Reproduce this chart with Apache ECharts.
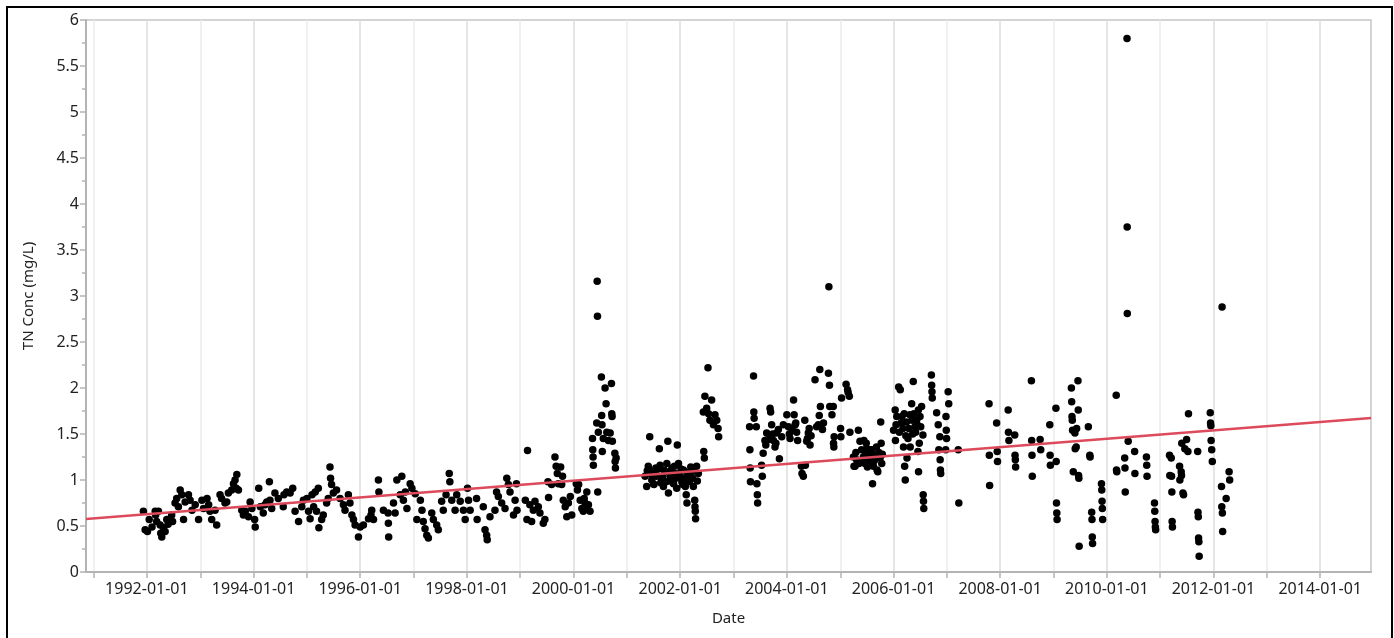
<!DOCTYPE html>
<html>
<head>
<meta charset="utf-8">
<script src="https://cdn.jsdelivr.net/npm/echarts@6/dist/echarts.min.js"></script>
<style>
  html, body { margin: 0; padding: 0; background: #fff; overflow: hidden; }
  #chart { position: absolute; left: 0; top: 0; width: 1394px; height: 638px; }
  #frame { position: absolute; left: 6px; top: 6px; width: 1383px; height: 700px; border: 2px solid #000; pointer-events: none; }
</style>
</head>
<body>
<div id="chart"></div>
<div id="frame"></div>
<script>
// TN samples: [date, mg/L]
const samples1991to1995 = [
  ['1991-12-08',0.66],['1991-12-20',0.46],
  ['1992-01-05',0.44],['1992-01-17',0.57],['1992-02-05',0.49],['1992-02-27',0.66],['1992-03-01',0.62],['1992-03-08',0.55],
  ['1992-03-20',0.66],['1992-04-01',0.51],['1992-04-05',0.42],['1992-04-12',0.38],['1992-04-23',0.48],['1992-05-05',0.44],
  ['1992-05-16',0.57],['1992-05-25',0.52],['1992-06-08',0.58],['1992-06-19',0.62],['1992-06-25',0.55],['1992-07-12',0.75],
  ['1992-07-23',0.80],['1992-08-04',0.71],['1992-08-16',0.89],['1992-08-27',0.84],['1992-09-08',0.57],['1992-09-19',0.76],
  ['1992-10-12',0.84],['1992-10-23',0.78],['1992-11-05',0.67],['1992-11-27',0.73],['1992-12-20',0.57],
  ['1993-01-12',0.78],['1993-01-23',0.69],['1993-02-16',0.80],['1993-02-27',0.73],['1993-03-08',0.66],['1993-03-20',0.57],
  ['1993-04-12',0.67],['1993-04-23',0.51],['1993-05-16',0.84],['1993-05-27',0.80],['1993-06-19',0.75],['1993-07-01',0.76],
  ['1993-07-12',0.86],['1993-08-04',0.89],['1993-08-16',0.96],['1993-08-27',1.00],['1993-09-04',0.91],['1993-09-08',1.06],
  ['1993-09-19',0.89],['1993-10-12',0.67],['1993-10-23',0.62],['1993-11-05',0.66],['1993-11-27',0.60],['1993-12-08',0.76],
  ['1993-12-20',0.69],
  ['1994-01-08',0.57],['1994-01-12',0.49],['1994-02-05',0.91],['1994-02-16',0.71],['1994-03-08',0.64],['1994-03-20',0.73],
  ['1994-04-01',0.76],['1994-04-19',0.98],['1994-04-23',0.78],['1994-05-05',0.69],['1994-05-27',0.86],['1994-06-19',0.80],
  ['1994-07-23',0.71],['1994-07-28',0.84],['1994-08-16',0.87],['1994-09-08',0.86],['1994-09-26',0.91],['1994-10-12',0.66],
  ['1994-11-05',0.55],['1994-11-27',0.71],['1994-12-08',0.78],
  ['1995-01-01',0.80],['1995-01-12',0.66],['1995-01-23',0.58],['1995-02-05',0.84],['1995-02-16',0.71],['1995-02-27',0.87],
  ['1995-03-08',0.66],['1995-03-20',0.91],['1995-03-24',0.48],['1995-04-12',0.57],['1995-04-23',0.62],['1995-05-16',0.75],
  ['1995-05-27',0.80],['1995-06-08',1.14],['1995-06-12',1.02],['1995-06-19',0.95],['1995-07-01',0.86],['1995-07-23',0.89],
  ['1995-08-16',0.80],['1995-09-08',0.73],['1995-09-19',0.67],['1995-10-12',0.84],['1995-10-23',0.75],['1995-11-05',0.62],
  ['1995-11-16',0.57],['1995-11-27',0.51],['1995-12-20',0.38]
];

const samples1996to1999 = [
  ['1996-01-01',0.49],['1996-01-23',0.51],['1996-02-27',0.58],['1996-03-15',0.62],['1996-03-20',0.67],['1996-04-01',0.57],
  ['1996-05-05',1.00],['1996-05-08',0.87],['1996-06-08',0.67],['1996-07-10',0.64],['1996-07-12',0.53],['1996-07-14',0.38],
  ['1996-08-16',0.75],['1996-08-27',0.64],['1996-09-08',1.00],['1996-10-01',0.84],['1996-10-12',1.04],['1996-10-23',0.78],
  ['1996-11-05',0.87],['1996-11-16',0.69],['1996-12-08',0.96],['1996-12-20',0.91],
  ['1997-01-12',0.85],['1997-01-23',0.57],['1997-02-16',0.78],['1997-02-27',0.67],['1997-03-08',0.55],['1997-03-20',0.47],
  ['1997-04-01',0.40],['1997-04-12',0.37],['1997-05-05',0.64],['1997-05-16',0.57],['1997-06-08',0.51],['1997-06-19',0.46],
  ['1997-07-12',0.77],['1997-07-23',0.67],['1997-08-11',0.84],['1997-09-02',1.07],['1997-09-06',0.98],['1997-09-19',0.78],
  ['1997-10-12',0.67],['1997-10-23',0.84],['1997-11-16',0.77],['1997-12-08',0.67],['1997-12-20',0.57],
  ['1998-01-05',0.91],['1998-01-12',0.78],['1998-01-23',0.67],['1998-03-08',0.80],['1998-03-12',0.57],['1998-04-23',0.71],
  ['1998-05-05',0.46],['1998-05-16',0.40],['1998-05-20',0.35],['1998-06-08',0.60],['1998-07-12',0.67],['1998-07-23',0.87],
  ['1998-08-04',0.82],['1998-08-27',0.75],['1998-09-19',0.69],['1998-10-01',1.02],['1998-10-12',0.95],['1998-10-23',0.87],
  ['1998-11-16',0.62],['1998-11-27',0.78],['1998-12-06',0.96],['1998-12-10',0.67],
  ['1999-02-05',0.78],['1999-02-16',0.57],['1999-02-20',1.32],['1999-03-08',0.73],['1999-03-20',0.55],['1999-04-01',0.67],
  ['1999-04-12',0.77],['1999-05-05',0.71],['1999-05-16',0.64],['1999-06-08',0.53],['1999-06-19',0.57],['1999-07-10',0.98],
  ['1999-07-14',0.81],['1999-08-04',0.95],['1999-08-27',1.25],['1999-09-04',1.15],['1999-09-12',1.07],['1999-09-19',0.96],
  ['1999-10-05',1.14],['1999-10-12',0.95],['1999-10-18',1.04],['1999-10-23',0.78],['1999-11-05',0.71],['1999-11-16',0.60],
  ['1999-11-27',0.75],['1999-12-10',0.82],['1999-12-20',0.62]
];

const samples2000to2004 = [
  ['2000-01-20',0.96],['2000-01-28',0.89],['2000-02-05',0.95],['2000-02-16',0.78],['2000-02-27',0.69],['2000-03-08',0.66],
  ['2000-03-14',0.80],['2000-03-20',0.75],['2000-04-01',0.87],['2000-04-05',0.69],['2000-04-12',0.73],['2000-04-23',0.66],
  ['2000-05-10',1.45],['2000-05-12',1.33],['2000-05-14',1.25],['2000-05-16',1.16],['2000-06-08',1.62],['2000-06-11',3.16],
  ['2000-06-13',2.78],['2000-06-15',0.87],['2000-06-19',1.52],['2000-07-10',2.12],['2000-07-12',1.70],['2000-07-14',1.60],
  ['2000-07-16',1.31],['2000-07-23',1.45],['2000-08-04',2.00],['2000-08-11',1.83],['2000-08-16',1.52],['2000-08-27',1.43],
  ['2000-09-08',1.51],['2000-09-17',2.05],['2000-09-19',1.72],['2000-09-21',1.69],['2000-09-23',1.42],['2000-10-10',1.29],
  ['2000-10-12',1.20],['2000-10-14',1.13],['2000-10-19',1.24],
  ['2001-05-05',1.04],['2001-05-16',0.93],['2001-05-20',1.10],['2001-05-27',1.15],['2001-06-01',1.12],['2001-06-06',1.47],
  ['2001-06-10',1.07],['2001-06-20',1.00],['2001-06-28',1.05],['2001-07-01',0.96],['2001-07-05',0.95],['2001-07-12',1.09],
  ['2001-07-18',1.13],['2001-07-23',1.04],['2001-08-05',1.12],['2001-08-11',1.34],['2001-08-16',1.16],['2001-08-20',0.97],
  ['2001-08-27',1.00],['2001-09-01',1.04],['2001-09-08',0.93],['2001-09-12',1.11],['2001-09-19',1.09],['2001-09-25',0.98],
  ['2001-10-01',1.18],['2001-10-08',1.42],['2001-10-12',0.86],['2001-10-18',0.99],['2001-10-23',1.04],['2001-10-28',1.10],
  ['2001-11-05',1.13],['2001-11-10',1.00],['2001-11-16',0.96],['2001-11-22',1.15],['2001-11-27',1.07],['2001-12-01',1.02],
  ['2001-12-08',0.91],['2001-12-12',1.38],['2001-12-16',1.06],['2001-12-20',1.18],
  ['2002-01-01',1.04],['2002-01-06',1.12],['2002-01-12',0.98],['2002-01-18',0.95],['2002-01-23',1.11],['2002-01-28',1.02],
  ['2002-02-05',0.93],['2002-02-11',0.84],['2002-02-16',0.75],['2002-02-20',1.08],['2002-02-27',1.05],['2002-03-01',0.98],
  ['2002-03-08',1.00],['2002-03-14',1.14],['2002-03-20',1.09],['2002-03-26',1.02],['2002-04-01',0.93],['2002-04-05',1.10],
  ['2002-04-10',0.78],['2002-04-12',0.71],['2002-04-14',0.66],['2002-04-16',0.58],['2002-04-23',1.15],['2002-04-28',0.99],
  ['2002-05-05',1.07],
  ['2002-06-08',1.74],['2002-06-11',1.31],['2002-06-15',1.24],['2002-06-19',1.91],['2002-07-01',1.78],['2002-07-10',2.22],
  ['2002-07-14',1.72],['2002-07-23',1.65],['2002-08-04',1.87],['2002-08-16',1.60],['2002-08-27',1.71],['2002-09-08',1.65],
  ['2002-09-17',1.56],['2002-09-21',1.47],
  ['2003-04-21',1.58],['2003-04-23',1.33],['2003-04-25',1.13],['2003-04-27',0.98],['2003-05-18',2.13],['2003-05-20',1.74],
  ['2003-05-22',1.67],['2003-06-06',1.58],['2003-06-10',0.96],['2003-06-13',0.84],['2003-06-15',0.75],['2003-07-12',1.16],
  ['2003-07-17',1.04],['2003-07-23',1.29],['2003-08-04',1.43],['2003-08-10',1.38],['2003-08-16',1.51],['2003-08-26',1.44],
  ['2003-09-08',1.78],['2003-09-12',1.74],['2003-09-19',1.60],['2003-09-26',1.50],['2003-10-01',1.43],['2003-10-12',1.36],
  ['2003-10-18',1.40],['2003-10-23',1.51],['2003-11-04',1.55],['2003-11-11',1.23],['2003-11-27',1.47],['2003-12-08',1.60],
  ['2004-01-01',1.71],['2004-01-12',1.58],['2004-01-18',1.50],['2004-01-23',1.45],['2004-02-06',1.55],['2004-02-16',1.87],
  ['2004-02-20',1.71],['2004-02-27',1.60],['2004-03-02',1.62],['2004-03-08',1.52],['2004-03-15',1.43],['2004-04-10',1.15],
  ['2004-04-14',1.07],['2004-04-23',1.04],['2004-05-03',1.65],['2004-05-07',1.16],['2004-05-16',1.42],['2004-05-21',1.45],
  ['2004-05-27',1.51],['2004-06-02',1.56],['2004-06-08',1.38],['2004-06-15',1.48],['2004-07-12',2.09],['2004-07-23',1.58],
  ['2004-08-04',1.60],['2004-08-10',1.70],['2004-08-14',2.20],['2004-08-18',1.80],['2004-09-01',1.55],['2004-09-08',1.62],
  ['2004-10-12',2.16],['2004-10-15',3.10],['2004-10-19',2.03],['2004-10-21',1.80],['2004-11-05',1.71],['2004-11-14',1.80],
  ['2004-11-16',1.40],['2004-11-18',1.36],['2004-11-20',1.47]
];

const samples2005to2009 = [
  ['2005-01-03',1.56],['2005-01-05',1.47],['2005-01-10',1.89],['2005-02-10',2.04],['2005-02-20',1.98],['2005-02-24',1.95],
  ['2005-03-04',1.91],['2005-03-08',1.52],['2005-04-01',1.25],['2005-04-05',1.15],['2005-04-12',1.15],['2005-04-18',1.30],
  ['2005-04-23',1.22],['2005-05-05',1.54],['2005-05-09',1.18],['2005-05-16',1.42],['2005-05-22',1.21],['2005-05-27',1.33],
  ['2005-06-08',1.25],['2005-06-12',1.43],['2005-06-19',1.18],['2005-06-23',1.27],['2005-06-28',1.40],['2005-07-01',1.34],
  ['2005-07-06',1.14],['2005-07-12',1.22],['2005-07-18',1.28],['2005-07-23',1.33],['2005-08-04',1.33],['2005-08-06',1.18],
  ['2005-08-10',0.96],['2005-08-16',1.15],['2005-08-22',1.21],['2005-08-27',1.27],['2005-09-06',1.36],['2005-09-10',1.11],
  ['2005-09-15',1.09],['2005-09-22',1.30],['2005-10-01',1.24],['2005-10-05',1.63],['2005-10-08',1.40],['2005-10-12',1.18],
  ['2005-10-16',1.28],
  ['2006-01-01',1.54],['2006-01-12',1.76],['2006-01-14',1.43],['2006-01-18',1.60],['2006-01-23',1.69],['2006-02-05',2.01],
  ['2006-02-10',1.52],['2006-02-16',1.98],['2006-02-22',1.62],['2006-02-27',1.69],['2006-03-06',1.56],['2006-03-10',1.36],
  ['2006-03-15',1.72],['2006-03-18',1.15],['2006-03-22',1.00],['2006-03-26',1.48],['2006-03-30',1.63],['2006-04-03',1.24],
  ['2006-04-10',1.45],['2006-04-16',1.56],['2006-04-23',1.71],['2006-04-25',1.36],['2006-05-05',1.83],['2006-05-08',1.65],
  ['2006-05-12',1.50],['2006-05-16',2.07],['2006-05-20',1.72],['2006-05-27',1.58],['2006-06-01',1.52],['2006-06-08',1.65],
  ['2006-06-12',1.60],['2006-06-17',1.31],['2006-06-20',1.76],['2006-06-21',1.09],['2006-06-26',1.40],['2006-07-01',1.69],
  ['2006-07-06',1.58],['2006-07-12',1.80],['2006-07-21',1.49],['2006-07-23',0.84],['2006-07-25',0.77],['2006-07-27',0.69],
  ['2006-09-17',2.14],['2006-09-19',2.03],['2006-09-21',1.96],['2006-09-23',1.89],['2006-10-23',1.73],['2006-11-03',1.60],
  ['2006-11-07',1.33],['2006-11-14',1.47],['2006-11-16',1.22],['2006-11-18',1.11],['2006-11-20',1.07],['2006-12-24',1.33],
  ['2006-12-26',1.69],['2006-12-28',1.54],['2006-12-30',1.45],
  ['2007-01-10',1.96],['2007-01-14',1.83],['2007-03-20',1.33],['2007-03-24',0.75],['2007-10-17',1.83],['2007-10-19',1.27],
  ['2007-10-21',0.94],['2007-12-08',1.62],['2007-12-12',1.31],['2007-12-14',1.20],
  ['2008-02-25',1.76],['2008-02-27',1.52],['2008-03-01',1.43],['2008-04-10',1.49],['2008-04-12',1.27],['2008-04-14',1.22],
  ['2008-04-16',1.14],['2008-08-02',2.08],['2008-08-04',1.43],['2008-08-06',1.27],['2008-08-08',1.04],['2008-10-01',1.44],
  ['2008-10-05',1.33],['2008-12-06',1.60],['2008-12-08',1.27],['2008-12-10',1.16],
  ['2009-01-17',1.78],['2009-01-19',1.20],['2009-01-21',0.75],['2009-01-23',0.64],['2009-01-25',0.57],['2009-05-03',2.00],
  ['2009-05-05',1.85],['2009-05-07',1.69],['2009-05-09',1.65],['2009-05-11',1.54],['2009-05-16',1.09],['2009-05-27',1.51],
  ['2009-05-29',1.34],['2009-06-05',1.36],['2009-06-08',1.56],['2009-06-17',2.08],['2009-06-19',1.76],['2009-06-21',1.05],
  ['2009-06-23',1.02],['2009-06-25',0.28],['2009-08-27',1.58],['2009-09-06',1.27],['2009-09-08',1.25],['2009-09-19',0.65],
  ['2009-09-21',0.57],['2009-09-23',0.38],['2009-09-25',0.31],['2009-11-25',0.96],['2009-11-27',0.89],['2009-11-29',0.77],
  ['2009-12-01',0.69],['2009-12-03',0.57]
];

const samples2010to2012 = [
  ['2010-03-06',1.92],['2010-03-08',1.11],['2010-03-10',1.09],['2010-05-03',1.24],['2010-05-05',1.13],['2010-05-07',0.87],
  ['2010-05-19',5.80],['2010-05-20',3.75],['2010-05-21',2.81],['2010-05-27',1.42],['2010-07-10',1.31],['2010-07-12',1.07],
  ['2010-09-29',1.25],['2010-10-01',1.16],['2010-10-03',1.04],['2010-11-23',0.75],['2010-11-25',0.66],['2010-11-27',0.55],
  ['2010-11-29',0.49],['2010-12-01',0.46],
  ['2011-03-06',1.27],['2011-03-08',1.05],['2011-03-18',1.24],['2011-03-20',1.04],['2011-03-22',0.87],['2011-03-24',0.55],
  ['2011-03-26',0.49],['2011-05-14',1.15],['2011-05-16',1.00],['2011-05-25',1.09],['2011-05-27',1.05],['2011-05-29',1.40],
  ['2011-06-06',0.86],['2011-06-10',0.84],['2011-06-19',1.34],['2011-07-01',1.44],['2011-07-10',1.31],['2011-07-14',1.72],
  ['2011-09-15',1.31],['2011-09-17',0.65],['2011-09-19',0.60],['2011-09-21',0.37],['2011-09-23',0.33],['2011-09-25',0.17],
  ['2011-12-10',1.73],['2011-12-12',1.62],['2011-12-14',1.59],['2011-12-16',1.43],['2011-12-20',1.33],['2011-12-24',1.20],
  ['2012-02-25',0.93],['2012-02-27',0.71],['2012-02-29',2.88],['2012-03-02',0.64],['2012-03-04',0.44],['2012-03-28',0.80],
  ['2012-04-17',1.09],['2012-04-21',1.00]
];

// fitted trend, value at each end of the date axis
const trendStart = ['1990-11-10', 0.575];
const trendEnd = ['2014-12-15', 1.675];

const tickYears = [1991, 1992, 1993, 1994, 1995, 1996, 1997, 1998, 1999, 2000, 2001, 2002,
                   2003, 2004, 2005, 2006, 2007, 2008, 2009, 2010, 2011, 2012, 2013, 2014];
const labelYears = [1992, 1994, 1996, 1998, 2000, 2002, 2004, 2006, 2008, 2010, 2012, 2014];

// dates -> ms timestamps (local), so the x axis is a plain value axis
const toTime = s => {
  const p = s.split('-').map(Number);
  return new Date(p[0], p[1] - 1, p[2]).getTime();
};
const jan1 = y => new Date(y, 0, 1).getTime();
const pad = n => (n < 10 ? '0' : '') + n;

const font = '"Noto Sans", "Open Sans", sans-serif';
const axisGrey = '#b4b4b4';
const textColor = '#222';

const allSamples = [].concat(samples1991to1995, samples1996to1999, samples2000to2004,
                             samples2005to2009, samples2010to2012)
  .map(d => [toTime(d[0]), d[1]]);

const chart = echarts.init(document.getElementById('chart'));
chart.setOption({
  animation: false,
  textStyle: { fontFamily: font },
  grid: {
    left: 86, right: 23, top: 20, bottom: 66,
    show: true, borderColor: '#c6c6c6', borderWidth: 1.5
  },
  xAxis: {
    type: 'value',
    min: toTime(trendStart[0]),
    max: toTime(trendEnd[0]),
    name: 'Date',
    nameLocation: 'middle',
    nameGap: 39,
    nameTextStyle: { fontSize: 15, color: textColor, fontFamily: font },
    axisLine: { lineStyle: { color: axisGrey, width: 2 } },
    axisTick: {
      customValues: tickYears.map(jan1),
      length: 6,
      lineStyle: { color: axisGrey, width: 1.5 }
    },
    axisLabel: {
      customValues: labelYears.map(jan1),
      formatter: v => {
        const d = new Date(v);
        return d.getFullYear() + '-' + pad(d.getMonth() + 1) + '-' + pad(d.getDate());
      },
      fontSize: 16,
      color: textColor,
      margin: 9,
      fontFamily: font
    },
    splitLine: {
      show: true,
      lineStyle: { color: ['#ebebeb', '#dcdcdc'], width: 1.5 }
    }
  },
  yAxis: {
    type: 'value',
    min: 0,
    max: 6,
    interval: 0.5,
    name: 'TN Conc (mg/L)',
    nameLocation: 'middle',
    nameGap: 50,
    nameTextStyle: { fontSize: 15, color: textColor, fontFamily: font },
    axisLine: { show: true, lineStyle: { color: axisGrey, width: 2 } },
    axisTick: { show: true, length: 6, lineStyle: { color: axisGrey, width: 1.5 } },
    minorTick: { show: true, splitNumber: 2, length: 4, lineStyle: { color: axisGrey, width: 1.5 } },
    splitLine: { show: false },
    axisLabel: { fontSize: 16, color: textColor, margin: 7, fontFamily: font }
  },
  series: [
    {
      name: 'TN Conc',
      type: 'scatter',
      data: allSamples,
      symbolSize: 7.5,
      itemStyle: { color: '#000', opacity: 1 },
      z: 2
    },
    {
      name: 'Trend',
      type: 'line',
      data: [[toTime(trendStart[0]), trendStart[1]], [toTime(trendEnd[0]), trendEnd[1]]],
      showSymbol: false,
      lineStyle: { color: '#dc4a5c', width: 2.5 },
      z: 3
    }
  ]
});
</script>
</body>
</html>
